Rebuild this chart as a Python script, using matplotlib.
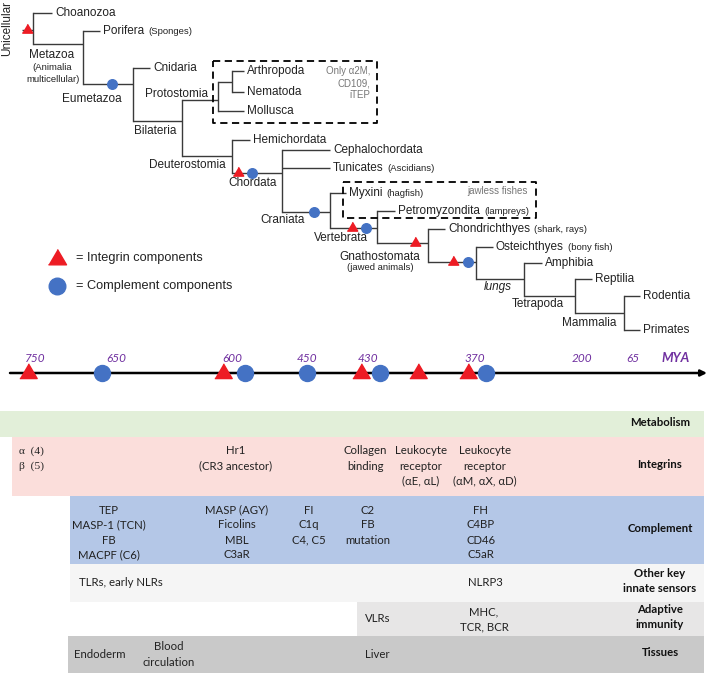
import matplotlib.pyplot as plt

# ---- phylogenetic tree (schematic layout, pixel-like units) ----
node_names = ["root", "Choanozoa", "Metazoa", "Porifera", "Eumetazoa", "Cnidaria",
              "Bilateria", "Protostomia", "AN", "Arthropoda", "Nematoda", "Mollusca",
              "Deuterostomia", "Hemichordata", "Chordata", "Cephalochordata", "Tunicates",
              "Craniata", "Myxini", "Vertebrata", "Petromyzondita", "Gnathostomata",
              "Chondrichthyes", "Osteo", "Osteichthyes", "lungs", "Amphibia",
              "Tetrapoda", "Reptilia", "Mammalia", "Rodentia", "Primates"]
node_parent = [None, "root", "root", "Metazoa", "Metazoa", "Eumetazoa",
               "Eumetazoa", "Bilateria", "Protostomia", "AN", "AN", "Protostomia",
               "Bilateria", "Deuterostomia", "Deuterostomia", "Chordata", "Chordata",
               "Chordata", "Craniata", "Craniata", "Vertebrata", "Vertebrata",
               "Gnathostomata", "Gnathostomata", "Osteo", "Osteo", "lungs",
               "lungs", "Tetrapoda", "Tetrapoda", "Mammalia", "Mammalia"]
node_depth = [33, 52, 83, 100, 133, 150, 182, 218, 232, 244, 244, 244,
              232, 250, 282, 330, 330, 330, 346, 377, 395, 428,
              445, 476, 493, 524, 542, 575, 592, 624, 640, 640]
node_row = [30, 13, 44, 31, 84, 68, 121, 100, 82, 71, 92, 111,
            156, 140, 173, 150, 168, 212, 193, 228, 211, 243,
            229, 262, 247, 279, 263, 296, 279, 313, 296, 330]

leaf_names = ["Choanozoa", "Porifera", "Cnidaria", "Arthropoda", "Nematoda", "Mollusca",
              "Hemichordata", "Cephalochordata", "Tunicates", "Myxini", "Petromyzondita",
              "Chondrichthyes", "Osteichthyes", "Amphibia", "Reptilia", "Rodentia", "Primates"]
leaf_notes = {"Porifera": "(Sponges)", "Tunicates": "(Ascidians)", "Myxini": "(hagfish)",
              "Petromyzondita": "(lampreys)", "Chondrichthyes": "(shark, rays)",
              "Osteichthyes": "(bony fish)"}

clade_labels = ["Metazoa", "(Animalia", "multicellular)", "Eumetazoa", "Protostomia",
                "Bilateria", "Deuterostomia", "Chordata", "Craniata", "Vertebrata",
                "Gnathostomata", "(jawed animals)", "lungs", "Tetrapoda", "Mammalia"]
clade_x = [52, 52, 53, 92, 177, 155, 187, 253, 283, 341, 380, 380, 498, 538, 589]
clade_y = [55, 68, 80, 99, 94, 131, 165, 183, 220, 238, 257, 268, 287, 304, 323]

# markers on branches: (node, kind, fraction along incoming branch)
branch_marks = [("root", "tri", 0.45), ("Eumetazoa", "dot", 0.58),
                ("Chordata", "tri", 0.12), ("Chordata", "dot", 0.40),
                ("Craniata", "dot", 0.67), ("Vertebrata", "tri", 0.47),
                ("Vertebrata", "dot", 0.77), ("Gnathostomata", "tri", 0.75),
                ("Osteo", "tri", 0.52), ("Osteo", "dot", 0.83)]

# ---- timeline ----
mya_labels = ["750", "650", "600", "450", "430", "370", "200", "65"]
mya_pos = [35, 116, 232, 307, 368, 475, 582, 633]
event_kind = ["tri", "dot", "tri", "dot", "dot", "tri", "dot", "tri", "tri", "dot"]
event_pos = [28, 102, 223, 245, 307, 361, 380, 418, 468, 486]

# ---- table ----
row_labels = ["Metabolism", "Integrins", "Complement", "Other key\ninnate sensors",
              "Adaptive\nimmunity", "Tissues"]
row_colors = ["#e2efd9", "#fbdedb", "#b4c7e7", "#f5f5f5", "#e7e6e6", "#c9c9c9"]
row_left = [0, 12, 70, 70, 357, 68]
row_top = [411, 437, 496, 564, 602, 636]
row_bottom = [437, 496, 564, 602, 636, 673]
row_valign = ["center", "top", "top", "center", "center", "center"]

# cells: (row index, x, horizontal alignment, text)
cells = [
    (1, 19, "left", "\u03b1  (4)\n\u03b2  (5)"),
    (1, 236, "center", "Hr1\n(CR3 ancestor)"),
    (1, 365, "center", "Collagen\nbinding"),
    (1, 421, "center", "Leukocyte\nreceptor\n(\u03b1E, \u03b1L)"),
    (1, 485, "center", "Leukocyte\nreceptor\n(\u03b1M, \u03b1X, \u03b1D)"),
    (2, 109, "center", "TEP\nMASP-1 (TCN)\nFB\nMACPF (C6)"),
    (2, 237, "center", "MASP (AGY)\nFicolins\nMBL\nC3aR"),
    (2, 309, "center", "FI\nC1q\nC4, C5"),
    (2, 368, "center", "C2\nFB\nmutation"),
    (2, 481, "center", "FH\nC4BP\nCD46\nC5aR"),
    (3, 79, "left", "TLRs, early NLRs"),
    (3, 485, "center", "NLRP3"),
    (4, 365, "left", "VLRs"),
    (4, 484, "center", "MHC,\nTCR, BCR"),
    (5, 74, "left", "Endoderm"),
    (5, 169, "center", "Blood\ncirculation"),
    (5, 365, "left", "Liver"),
]

RED = "#ed1c24"
BLUE = "#4472c4"
PURPLE = "#7030a0"
LINE = "#3a3a3a"
TREE_FONT = "Liberation Sans"
TABLE_FONT = "Lato"

TRI = [(-1, -0.7), (1, -0.7), (0, 1.0)]


def mark(ax, x, y, kind, size):
    if kind == "tri":
        ax.plot(x, y - size * 0.08, marker=TRI, ms=size, color=RED, mec=RED, zorder=5)
    else:
        ax.plot(x, y, marker="o", ms=size * 0.92, color=BLUE, mec=BLUE, zorder=5)


fig = plt.figure(figsize=(7.09, 6.75), dpi=100)
ax = fig.add_axes([0, 0, 1, 1])
ax.set_xlim(0, 709)
ax.set_ylim(675, 0)
ax.axis("off")

# tree branches
pos = {n: (d, r) for n, d, r in zip(node_names, node_depth, node_row)}
parent = dict(zip(node_names, node_parent))
for n in node_names:
    x, y = pos[n]
    p = parent[n]
    px = pos[p][0] if p else 22
    ax.plot([px, x], [y, y], color=LINE, lw=1.0, solid_capstyle="butt")
    kids = [pos[c][1] for c in node_names if parent[c] == n]
    if kids:
        ax.plot([x, x], [min(kids), max(kids)], color=LINE, lw=1.0)

for n, kind, frac in branch_marks:
    x, y = pos[n]
    p = parent[n]
    px = pos[p][0] if p else 22
    mark(ax, px + frac * (x - px), y, kind, 7.5)

# leaf labels
for n in leaf_names:
    x, y = pos[n]
    t = ax.text(x + 3, y, n, fontsize=8.5, family=TREE_FONT, color="#222222",
                ha="left", va="center")
    if n in leaf_notes:
        ax.annotate(leaf_notes[n], xy=(1, 0.45), xycoords=t, xytext=(3, 0),
                    textcoords="offset points", fontsize=6.8, family=TREE_FONT,
                    color="#222222", ha="left", va="center")

for lab, x, y in zip(clade_labels, clade_x, clade_y):
    small = lab.startswith("(") or lab == "multicellular)"
    ax.text(x, y, lab, fontsize=6.8 if small else 8.5, family=TREE_FONT,
            color="#222222", ha="center", va="center",
            style="italic" if lab == "lungs" else "normal")

ax.text(7, 29, "Unicellular", rotation=90, fontsize=8.5, family=TREE_FONT,
        color="#222222", ha="center", va="center")

# dashed boxes
for (x0, y0, x1, y1) in [(213, 61, 377, 123), (343, 182, 536, 218)]:
    ax.plot([x0, x1, x1, x0, x0], [y0, y0, y1, y1, y0], color="black", lw=1.3,
            ls=(0, (4, 2.5)))
ax.text(370, 83, "Only \u03b12M,\nCD109,\niTEP", fontsize=7, family=TREE_FONT,
        color="#777777", ha="right", va="center", linespacing=1.25)
ax.text(528, 191, "jawless fishes", fontsize=7, family=TREE_FONT,
        color="#777777", ha="right", va="center")

# legend
mark(ax, 57, 259, "tri", 13)
mark(ax, 57, 286, "dot", 13)
ax.text(76, 258, "= Integrin components", fontsize=9.2, family=TREE_FONT,
        color="#222222", va="center")
ax.text(76, 286, "= Complement components", fontsize=9.2, family=TREE_FONT,
        color="#222222", va="center")

# timeline
ax.annotate("", xy=(707, 373), xytext=(10, 373),
            arrowprops=dict(arrowstyle="-|>", lw=1.8, color="black",
                            mutation_scale=9, shrinkA=0, shrinkB=0))
for x, kind in zip(event_pos, event_kind):
    mark(ax, x, 373, kind, 12.5)
for lab, x in zip(mya_labels, mya_pos):
    ax.text(x, 358, lab, fontsize=8.5, family=TABLE_FONT, style="italic",
            color=PURPLE, ha="center", va="center")
ax.text(676, 358, "MYA", fontsize=9.5, family=TABLE_FONT, style="italic",
        weight="bold", color=PURPLE, ha="center", va="center")

# table rows
for i, lab in enumerate(row_labels):
    ax.fill_between([row_left[i], 704], row_top[i], row_bottom[i],
                    color=row_colors[i], lw=0, zorder=0)
    yc = (row_top[i] + row_bottom[i]) / 2
    lines = lab.split("\n")
    for k, ln in enumerate(lines):
        ax.text(660, yc - 2 + (k - (len(lines) - 1) / 2) * 14.5, ln, fontsize=8.2,
                family=TABLE_FONT, weight="bold", color="#111111",
                ha="center", va="center")

for r, x, ha, txt in cells:
    lines = txt.split("\n")
    step = 15
    if row_valign[r] == "top":
        y0 = row_top[r] + 14
    else:
        y0 = (row_top[r] + row_bottom[r]) / 2 - (len(lines) - 1) * step / 2
    fam = "Liberation Serif" if txt.startswith("\u03b1  (") else TABLE_FONT
    for k, ln in enumerate(lines):
        ax.text(x, y0 + k * step, ln, fontsize=8.2, family=fam, color="#222222",
                ha=ha, va="center")

fig.savefig("out.png", dpi=100)
